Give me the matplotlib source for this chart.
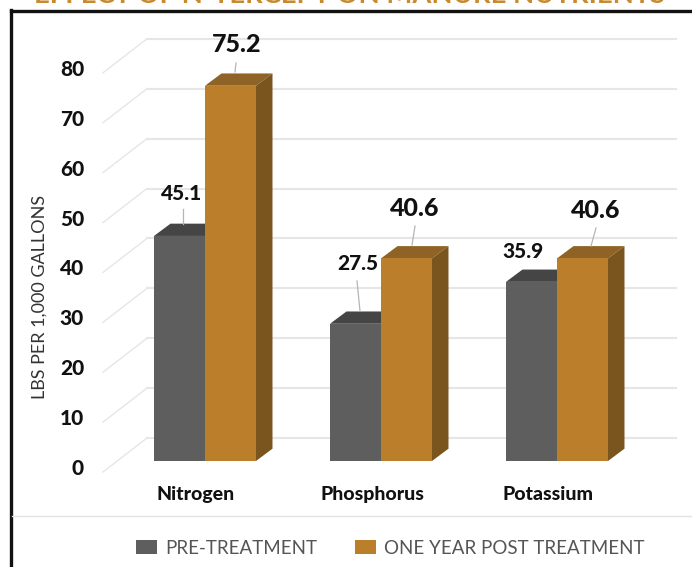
import matplotlib
matplotlib.use("Agg")
import matplotlib.pyplot as plt
from matplotlib.lines import Line2D
from matplotlib.patches import Patch, Polygon
from matplotlib.transforms import ScaledTranslation

categories = ["Nitrogen", "Phosphorus", "Potassium"]
pre_treatment = [45.1, 27.5, 35.9]
post_treatment = [75.2, 40.6, 40.6]
y_ticks = [0, 10, 20, 30, 40, 50, 60, 70, 80]
series_names = ["PRE-TREATMENT", "ONE YEAR POST TREATMENT"]
title = "EFFECT OF N-TERCEPT ON MANURE NUTRIENTS"
y_label = "LBS PER 1,000 GALLONS"

W, H = 692, 567
FONT = "Lato"
HEAVY = 900
plt.rcParams["font.family"] = FONT

fig = plt.figure(figsize=(W / 100, H / 100), dpi=100, facecolor="white")


def fx(p):
    return p / W


def fy(p):
    return 1 - p / H


# axes from pixel box: front plane value 0 at y=461, 5 px per unit; category c at x=205+176c
L, R, T, B = 100, 692, 11, 475
ax = fig.add_axes([fx(L), fy(B), (R - L) / W, (B - T) / H])
ax.set_xlim((L - 205) / 176, (R - 205) / 176)
ax.set_ylim((461 - B) / 4.99, (461 - T) / 4.99)
ax.patch.set_alpha(0)
for s in ax.spines.values():
    s.set_visible(False)

xs = list(range(len(categories)))
bw = 51 / 176
ddx = 16.5 / 176
ddy = 12.3 / 4.99

# walls and floor lines
wall_l = (147 - 205) / 176
wall_r = (676 - 205) / 176
wall_dy = 23 / 4.99
front_l = (103 - 205) / 176
front_dy = -11 / 4.99
GRID = "#e6e6e6"
for v in y_ticks:
    ax.plot([wall_l, wall_r], [v + wall_dy] * 2, color=GRID, lw=1.5, zorder=1, clip_on=False)
    ax.plot([front_l, wall_l], [v + front_dy, v + wall_dy], color=GRID, lw=1.0, zorder=1, clip_on=False)

GREY, GREY_TOP = "#5e5e5e", "#454545"
OR, OR_TOP, OR_SIDE = "#bb7f2b", "#8f6226", "#7b551e"

for x, a, b in zip(xs, pre_treatment, post_treatment):
    ax.add_patch(Polygon([(x - bw, a), (x - bw + ddx, a + ddy), (x + ddx, a + ddy), (x, a)],
                         facecolor=GREY_TOP, edgecolor="none", zorder=2))
    ax.add_patch(Polygon([(x, b), (x + ddx, b + ddy), (x + bw + ddx, b + ddy), (x + bw, b)],
                         facecolor=OR_TOP, edgecolor="none", zorder=4))
    ax.add_patch(Polygon([(x + bw, 0), (x + bw + ddx, ddy), (x + bw + ddx, b + ddy), (x + bw, b)],
                         facecolor=OR_SIDE, edgecolor="none", zorder=4))

ax.bar([x - bw for x in xs], pre_treatment, width=bw, align="edge", color=GREY, zorder=3,
       edgecolor="none")
ax.bar(xs, post_treatment, width=bw, align="edge", color=OR, zorder=5, edgecolor="none")


def px_to_data(px, py):
    return (px - 205) / 176, (461 - py) / 4.99


# data labels: (value, center px, font size, leader from, leader to)
labels = [
    (post_treatment[0], (237, 44), 18, (236, 63), (235, 72)),
    (pre_treatment[0], (182, 194), 15, (183, 209), (183, 224)),
    (pre_treatment[1], (358, 264), 15, (357, 281), (360, 311)),
    (post_treatment[1], (415, 208), 18, (415, 226), (412, 245)),
    (pre_treatment[2], (523, 252), 15, None, None),
    (post_treatment[2], (596, 211), 18, (596, 228), (591, 246)),
]
for val, c, fs, p0, p1 in labels:
    ax.text(*px_to_data(*c), f"{val:.1f}", ha="center", va="center", fontsize=fs,
            fontweight=HEAVY, color="#111111", zorder=6, clip_on=False)
    if p0:
        d0, d1 = px_to_data(*p0), px_to_data(*p1)
        ax.plot([d0[0], d1[0]], [d0[1], d1[1]], color="#b5b5b5", lw=0.9, zorder=6)

# axis ticks
ax.set_yticks(y_ticks)
ax.set_xticks(xs)
ax.set_xticklabels(categories)
ax.tick_params(axis="both", length=0)
ax.tick_params(axis="y", pad=11.5, labelsize=15, labelcolor="#111111")
ax.tick_params(axis="x", pad=8, labelsize=14, labelcolor="#111111")
for t in ax.get_yticklabels():
    t.set_fontweight(HEAVY)
    t.set_transform(t.get_transform() + ScaledTranslation(0, -6 / 100, fig.dpi_scale_trans))
for t in ax.get_xticklabels():
    t.set_fontweight(HEAVY)
    t.set_transform(t.get_transform() + ScaledTranslation(-9 / 100, 0, fig.dpi_scale_trans))

ax.set_ylabel(y_label, fontsize=13, color="#333333")
ax.yaxis.set_label_coords(fx(48), fy(297), transform=fig.transFigure)

# frame, separator, clipped title
fig.add_artist(Line2D([fx(11), fx(692)], [fy(11), fy(11)], color="#111111", lw=2.4))
fig.add_artist(Line2D([fx(11), fx(11)], [fy(10), fy(567)], color="#111111", lw=2.4))
fig.add_artist(Line2D([fx(12), fx(692)], [fy(516), fy(516)], color="#e2e2e2", lw=1))
fig.text(fx(350), fy(3), title, ha="center", va="baseline", fontsize=19.7, fontweight="bold",
         color="#c98a2f")

# legend
handles = [Patch(facecolor=GREY, edgecolor="none"), Patch(facecolor=OR, edgecolor="none")]
fig.legend(handles, series_names, loc="center left", bbox_to_anchor=(fx(136), fy(548)), ncol=2,
           frameon=False, fontsize=13.5, labelcolor="#555555", borderpad=0, borderaxespad=0,
           handlelength=1.13, handleheight=0.72, handletextpad=0.42, columnspacing=2.0)

fig.savefig("out.png", dpi=100)
